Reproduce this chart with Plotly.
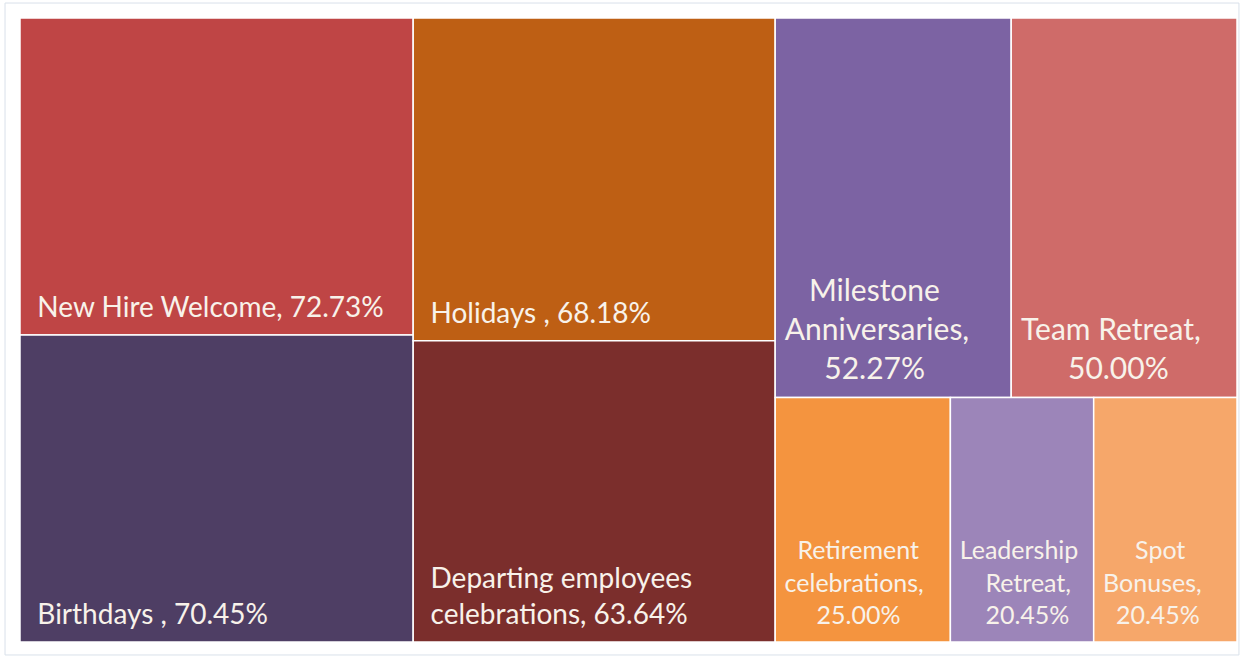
import plotly.graph_objects as go

# Recognition programs and the share of respondents using each
categories = [
    "New Hire Welcome",
    "Birthdays",
    "Holidays",
    "Departing employees celebrations",
    "Milestone Anniversaries",
    "Team Retreat",
    "Retirement celebrations",
    "Leadership Retreat",
    "Spot Bonuses",
]
shares = [72.73, 70.45, 68.18, 63.64, 52.27, 50.00, 25.00, 20.45, 20.45]

# Wrapped label lines written before the value (value goes on its own line when listed last as "")
label_lines = [
    ["New Hire Welcome, "],
    ["Birthdays , "],
    ["Holidays , "],
    ["Departing employees", "celebrations, "],
    ["Milestone", "Anniversaries,", ""],
    ["Team Retreat,", ""],
    ["Retirement", "celebrations,", ""],
    ["Leadership", "Retreat,", ""],
    ["Spot", "Bonuses,", ""],
]

# Styling: tile colours, font sizes and per-line indents (in no-break spaces)
tile_colors = [
    "#BF4545", "#4E3E64", "#BE5F14", "#7B2E2C", "#7C63A3",
    "#CF6B69", "#F4943F", "#9C85B9", "#F6A76A",
]
font_sizes = [28, 28, 28, 28, 30, 30, 25, 25, 25]
line_indents = [
    [2], [2], [2], [2, 2],
    [4, 1, 6], [1, 7],
    [3, 1, 6], [1, 5, 5], [6, 1, 3],
]

NBSP = "\u00a0"
# an invisible tall spacer on the last line lifts labels off the tile's bottom edge
BOTTOM_SPACER = '<span style="font-size:72px">' + NBSP + "</span>"


def build_template(lines, indents):
    out = []
    for i, (line, ind) in enumerate(zip(lines, indents)):
        piece = NBSP * ind + line
        if i == len(lines) - 1:
            piece += "%{value:.2f}%" + BOTTOM_SPACER
        out.append(piece)
    return "<br>".join(out)


root_name = "Programs"
ids = [root_name] + categories
parents = [""] + [root_name] * len(categories)
values = [sum(shares)] + shares
templates = [""] + [build_template(l, n) for l, n in zip(label_lines, line_indents)]
colors = ["#FFFFFF"] + tile_colors
sizes = [12] + font_sizes

fig = go.Figure(
    go.Treemap(
        ids=ids,
        labels=ids,
        parents=parents,
        values=values,
        branchvalues="total",
        texttemplate=templates,
        textposition="bottom left",
        textfont=dict(family="Lato, Open Sans, sans-serif", color="#F8F2EA", size=sizes),
        marker=dict(colors=colors, line=dict(color="#FFFFFF", width=1.5),
                    pad=dict(t=0, l=0, r=0, b=0)),
        tiling=dict(packing="squarify", squarifyratio=1, pad=0),
        sort=True,
        pathbar=dict(visible=False),
        hoverinfo="label+value",
    )
)

fig.update_layout(
    width=1240,
    height=656,
    margin=dict(l=20, r=3, t=18, b=14),
    paper_bgcolor="#FFFFFF",
    shapes=[
        dict(
            type="rect", xref="paper", yref="paper",
            x0=-0.0123, x1=1.0016, y0=-0.0208, y1=1.024,
            line=dict(color="#D9E1EA", width=1), fillcolor="rgba(0,0,0,0)", layer="below",
        )
    ],
)

fig.write_html("out.html")
